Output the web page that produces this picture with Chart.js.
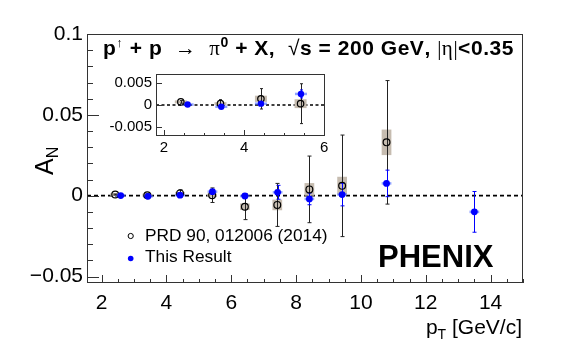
<!DOCTYPE html>
<html><head><meta charset="utf-8">
<script src="https://cdn.jsdelivr.net/npm/chart.js@4.4.1/dist/chart.umd.min.js"></script>
<style>
html,body{margin:0;padding:0;background:#fff}
#wrap{position:relative;width:581px;height:346px;overflow:hidden}
canvas{position:absolute}
</style></head>
<body><div id="wrap">
<canvas id="main" width="581" height="346" style="left:0;top:0"></canvas>
<canvas id="inset" width="240" height="104" style="left:100px;top:58px"></canvas>
</div>
<script>
const FONT = "'Liberation Sans', Arial, Helvetica, sans-serif";
Chart.defaults.font.family = FONT;
Chart.defaults.color = '#000';

// ---- data ----
const prdLabel = 'PRD 90, 012006 (2014)';
const resLabel = 'This Result';
const prdPt   = [2.42, 3.41, 4.42, 5.41, 6.42, 7.42, 8.41, 9.42, 10.79];
const prdAN   = [0.0007, 0.0003, 0.0014, 0.0003, -0.0068, -0.0057, 0.0039, 0.0061, 0.0330];
const prdStat = [0.0003, 0.0009, 0.0023, 0.0045, 0.0080, 0.0133, 0.0206, 0.0314, 0.0382];
const prdSys  = [0.0003, 0.0003, 0.0007, 0.0010, 0.0020, 0.0033, 0.0039, 0.0056, 0.0079];
const resPt   = [2.59, 3.43, 4.42, 5.42, 6.42, 7.43, 8.41, 9.42, 10.79, 13.50];
const resAN   = [0.0001, -0.0004, 0.0003, 0.0025, -0.0002, 0.0021, -0.0020, 0.0007, 0.0076, -0.0100];
const resStat = [0.0002, 0.0003, 0.0004, 0.0009, 0.0012, 0.0043, 0.0036, 0.0070, 0.0082, 0.0126];
const resSys  = [0.0001, 0.0001, 0.0001, 0.0002, 0.0003, 0.0004, 0.0004, 0.0005, 0.0006, 0.0008];

// ---- ticks ----
const xTicks  = [2, 4, 6, 8, 10, 12, 14];
const xLabels = ['2', '4', '6', '8', '10', '12', '14'];
const yTicks  = [-0.05, 0, 0.05, 0.1];
const yLabels = ['\u22120.05', '0', '0.05', '0.1'];
const ixTicks  = [2, 4, 6];
const ixLabels = ['2', '4', '6'];
const iyTicks  = [-0.005, 0, 0.005];
const iyLabels = ['-0.005', '0', '0.005'];

const phenixText = 'PHENIX';

function pts(xs, ys){ return xs.map((v,i)=>({x:v, y:ys[i]})); }

function datasets(r){
  return [
    {label: resLabel, data: pts(resPt, resAN), pointRadius: r, pointHoverRadius: r,
     backgroundColor: '#0000ff', borderColor: '#0000ff', borderWidth: 0, clip: 0},
    {label: prdLabel, data: pts(prdPt, prdAN), pointRadius: r, pointHoverRadius: r,
     backgroundColor: 'rgba(0,0,0,0)', borderColor: '#000', borderWidth: 1.2, clip: 0}
  ];
}

// error bars, systematic boxes, zero line, frame, ticks
const errPlugin = {
  id: 'anErr',
  beforeDatasetsDraw(chart, args, o){
    const {ctx, chartArea:a, scales:{x, y}} = chart;
    ctx.save();
    if (o.white){ ctx.fillStyle='#fff'; ctx.fillRect(a.left, a.top, a.width, a.height); }
    ctx.beginPath(); ctx.rect(a.left, a.top, a.width, a.height); ctx.clip();
    const y0 = y.getPixelForValue(0);
    ctx.setLineDash(o.dash); ctx.lineWidth = o.dashW; ctx.strokeStyle = '#000';
    ctx.beginPath(); ctx.moveTo(a.left, y0); ctx.lineTo(a.right, y0); ctx.stroke();
    ctx.setLineDash([]);
    const hw = 0.15;
    // PRD systematic boxes
    ctx.fillStyle = '#c6bcb0';
    prdPt.forEach((p,i)=>{
      const x1 = x.getPixelForValue(p-hw), x2 = x.getPixelForValue(p+hw);
      let yt = y.getPixelForValue(prdAN[i]+prdSys[i]), yb = y.getPixelForValue(prdAN[i]-prdSys[i]);
      if (yb-yt < 3){ const c=(yt+yb)/2; yt=c-1.5; yb=c+1.5; }
      ctx.fillRect(x1, yt, x2-x1, yb-yt);
    });
    // result systematic bars
    ctx.fillStyle = 'rgba(70,100,255,0.6)';
    resPt.forEach((p,i)=>{
      const x1 = x.getPixelForValue(p-hw), x2 = x.getPixelForValue(p+hw);
      let yt = y.getPixelForValue(resAN[i]+resSys[i]), yb = y.getPixelForValue(resAN[i]-resSys[i]);
      if (yb-yt < 2.5){ const c=(yt+yb)/2; yt=c-1.25; yb=c+1.25; }
      ctx.fillRect(x1, yt, x2-x1, yb-yt);
    });
    // stat error bars
    function bars(xs, ys, es, col){
      ctx.strokeStyle = col; ctx.lineWidth = 1;
      xs.forEach((p,i)=>{
        const px = Math.round(x.getPixelForValue(p))+0.5;
        const yt = y.getPixelForValue(ys[i]+es[i]), yb = y.getPixelForValue(ys[i]-es[i]);
        ctx.beginPath();
        ctx.moveTo(px, yt); ctx.lineTo(px, yb);
        ctx.moveTo(px-o.cap, yt); ctx.lineTo(px+o.cap, yt);
        ctx.moveTo(px-o.cap, yb); ctx.lineTo(px+o.cap, yb);
        ctx.stroke();
      });
    }
    bars(prdPt, prdAN, prdStat, '#222');
    bars(resPt, resAN, resStat, '#0000ff');
    ctx.restore();
  },
  afterDraw(chart, args, o){
    const {ctx, chartArea:a, scales:{x, y}} = chart;
    ctx.save();
    ctx.strokeStyle = '#333'; ctx.lineWidth = 1;
    ctx.strokeRect(Math.round(a.left)+0.5, Math.round(a.top)+0.5, Math.round(a.width)-1, Math.round(a.height)-1);
    ctx.beginPath();
    for (let v = o.xMinorStart; v <= x.max + 1e-9; v += o.xMinor){
      if (v < x.min) continue;
      const major = o.xMajor.some(m=>Math.abs(m-v)<1e-9);
      const px = Math.round(x.getPixelForValue(v))+0.5;
      const L = major ? o.xMajLen : o.xMinLen;
      ctx.moveTo(px, a.bottom); ctx.lineTo(px, a.bottom - L);
    }
    if (o.yMinor){
      for (let k = Math.ceil(y.min/o.yMinor - 1e-9); k*o.yMinor <= y.max + 1e-12; k++){
        const v = k*o.yMinor;
        const major = o.yMajor.some(m=>Math.abs(m-v)<1e-9);
        const py = Math.round(y.getPixelForValue(v))+0.5;
        const L = major ? o.yMajLen : o.yMinLen;
        ctx.moveTo(a.left, py); ctx.lineTo(a.left + L, py);
      }
    } else {
      o.yMajor.forEach(v=>{
        const py = Math.round(y.getPixelForValue(v))+0.5;
        ctx.moveTo(a.left, py); ctx.lineTo(a.left + o.yMajLen, py);
      });
    }
    ctx.stroke();
    ctx.restore();
  }
};

function drawRich(ctx, segs, x, y){
  let cx = x;
  segs.forEach(s=>{
    ctx.font = s.f;
    ctx.fillText(s.t, cx, y + (s.dy||0));
    cx += ctx.measureText(s.t).width + (s.kern||0);
  });
  return cx;
}
function richWidth(ctx, segs){
  let w = 0;
  segs.forEach(s=>{ ctx.font = s.f; w += ctx.measureText(s.t).width + (s.kern||0); });
  return w;
}

const textPlugin = {
  id: 'anText',
  afterDraw(chart){
    const {ctx} = chart;
    ctx.save();
    ctx.fillStyle = '#000';
    ctx.textBaseline = 'alphabetic';
    ctx.textAlign = 'left';
    const B = 'bold 21px ' + FONT, N = '21px ' + FONT, S = "21px 'Liberation Serif', 'DejaVu Serif', serif";
    const title = [
      {t:'p', f:B}, {t:'\u2191', f:'13px '+FONT, dy:-8},
      {t:' + p  ', f:B}, {t:'\u2192', f:N}, {t:'  ', f:B},
      {t:'\u03c0', f:S}, {t:'0', f:'bold 14px '+FONT, dy:-8},
      {t:' + X,  ', f:B}, {t:'\u221a', f:N}, {t:'s = 200 GeV, ', f:B},
      {t:'|\u03b7|', f:S}, {t:'<0.35', f:B}
    ];
    // stretch spacing so the title spans the same width as in the figure
    const tw = richWidth(ctx, title);
    const nch = title.reduce((n,s)=>n+s.t.length, 0);
    const extra = (409 - tw) / nch;
    title.forEach(s=>{ s.kern = extra * s.t.length; });
    // draw char-by-char spacing via segment kerning
    let cx = 103;
    title.forEach(s=>{
      ctx.font = s.f;
      for (const ch of s.t){
        ctx.fillText(ch, cx, 55 + (s.dy||0));
        cx += ctx.measureText(ch).width + extra;
      }
    });
    // y title A_N
    ctx.save();
    ctx.translate(53, 175); ctx.rotate(-Math.PI/2);
    drawRich(ctx, [{t:'A', f:'25px '+FONT}, {t:'N', f:'16px '+FONT, dy:5}], 0, 0);
    ctx.restore();
    // x title p_T [GeV/c]
    const xt = [{t:'p', f:'21px '+FONT}, {t:'T', f:'14px '+FONT, dy:5}, {t:' [GeV/c]', f:'21px '+FONT}];
    drawRich(ctx, xt, 522 - richWidth(ctx, xt), 334);
    // legend
    const ds = chart.data.datasets;
    ctx.font = '17.3px ' + FONT; ctx.textBaseline = 'middle';
    ctx.beginPath(); ctx.arc(130.7, 236, 2.6, 0, 2*Math.PI); ctx.lineWidth = 1; ctx.strokeStyle = '#000'; ctx.stroke();
    ctx.fillText(ds[1].label, 145, 236);
    ctx.beginPath(); ctx.arc(130.7, 258.5, 2.8, 0, 2*Math.PI); ctx.fillStyle = '#0000ff'; ctx.fill();
    ctx.fillStyle = '#000';
    ctx.fillText(ds[0].label, 145, 257.5);
    // PHENIX
    ctx.textBaseline = 'alphabetic';
    ctx.font = 'bold 31px ' + FONT;
    ctx.fillText(phenixText, 378, 266.5);
    ctx.restore();
  }
};

function lookup(vals, labs){ return (v)=>{ const i = vals.findIndex(t=>Math.abs(t-v)<1e-12); return i<0 ? '' : labs[i]; }; }

new Chart(document.getElementById('main'), {
  type: 'scatter',
  data: {datasets: datasets(3.4)},
  options: {
    responsive: false, animation: false, devicePixelRatio: 1,
    layout: {padding: {left: 0, right: 58, top: 34, bottom: 0}},
    plugins: {
      legend: {display: false}, tooltip: {enabled: false},
      anErr: {dash:[4,3], dashW:1.8, cap:2, white:false,
        xMajor: xTicks, xMinor: 0.5, xMinorStart: 1.5, xMajLen: 8, xMinLen: 4,
        yMajor: yTicks, yMinor: 0.01, yMajLen: 12, yMinLen: 6}
    },
    scales: {
      x: {type:'linear', min:1.55, max:15,
        afterBuildTicks: s=>{ s.ticks = xTicks.map(v=>({value:v})); },
        afterFit: s=>{ s.height = 63; },
        grid: {display:false, drawTicks:false}, border: {display:false},
        ticks: {padding:8, autoSkip:false, maxRotation:0, font:{size:21}, color:'#000', callback: lookup(xTicks, xLabels)}},
      y: {type:'linear', min:-0.054, max:0.1,
        afterBuildTicks: s=>{ s.ticks = yTicks.map(v=>({value:v})); },
        afterFit: s=>{ s.width = 87; },
        grid: {display:false, drawTicks:false}, border: {display:false},
        ticks: {padding:4, autoSkip:false, font:{size:21}, color:'#000', callback: lookup(yTicks, yLabels)}}
    }
  },
  plugins: [errPlugin, textPlugin]
});

new Chart(document.getElementById('inset'), {
  type: 'scatter',
  data: {datasets: datasets(3.2)},
  options: {
    responsive: false, animation: false, devicePixelRatio: 1,
    layout: {padding: {left: 0, right: 15, top: 16, bottom: 0}},
    plugins: {
      legend: {display: false}, tooltip: {enabled: false},
      anErr: {dash:[3,2.5], dashW:1.5, cap:1.5, white:true,
        xMajor: ixTicks, xMinor: 0.5, xMinorStart: 1.5, xMajLen: 6, xMinLen: 3,
        yMajor: iyTicks, yMinor: 0, yMajLen: 6, yMinLen: 3}
    },
    scales: {
      x: {type:'linear', min:1.8, max:6.02,
        afterBuildTicks: s=>{ s.ticks = ixTicks.map(v=>({value:v})); },
        afterFit: s=>{ s.height = 26; },
        grid: {display:false, drawTicks:false}, border: {display:false},
        ticks: {padding:3, autoSkip:false, maxRotation:0, font:{size:15}, color:'#000', callback: lookup(ixTicks, ixLabels)}},
      y: {type:'linear', min:-0.007, max:0.007,
        afterBuildTicks: s=>{ s.ticks = iyTicks.map(v=>({value:v})); },
        afterFit: s=>{ s.width = 56; },
        grid: {display:false, drawTicks:false}, border: {display:false},
        ticks: {padding:4, autoSkip:false, font:{size:15}, color:'#000', callback: lookup(iyTicks, iyLabels)}}
    }
  },
  plugins: [errPlugin]
});
</script>
</body></html>
